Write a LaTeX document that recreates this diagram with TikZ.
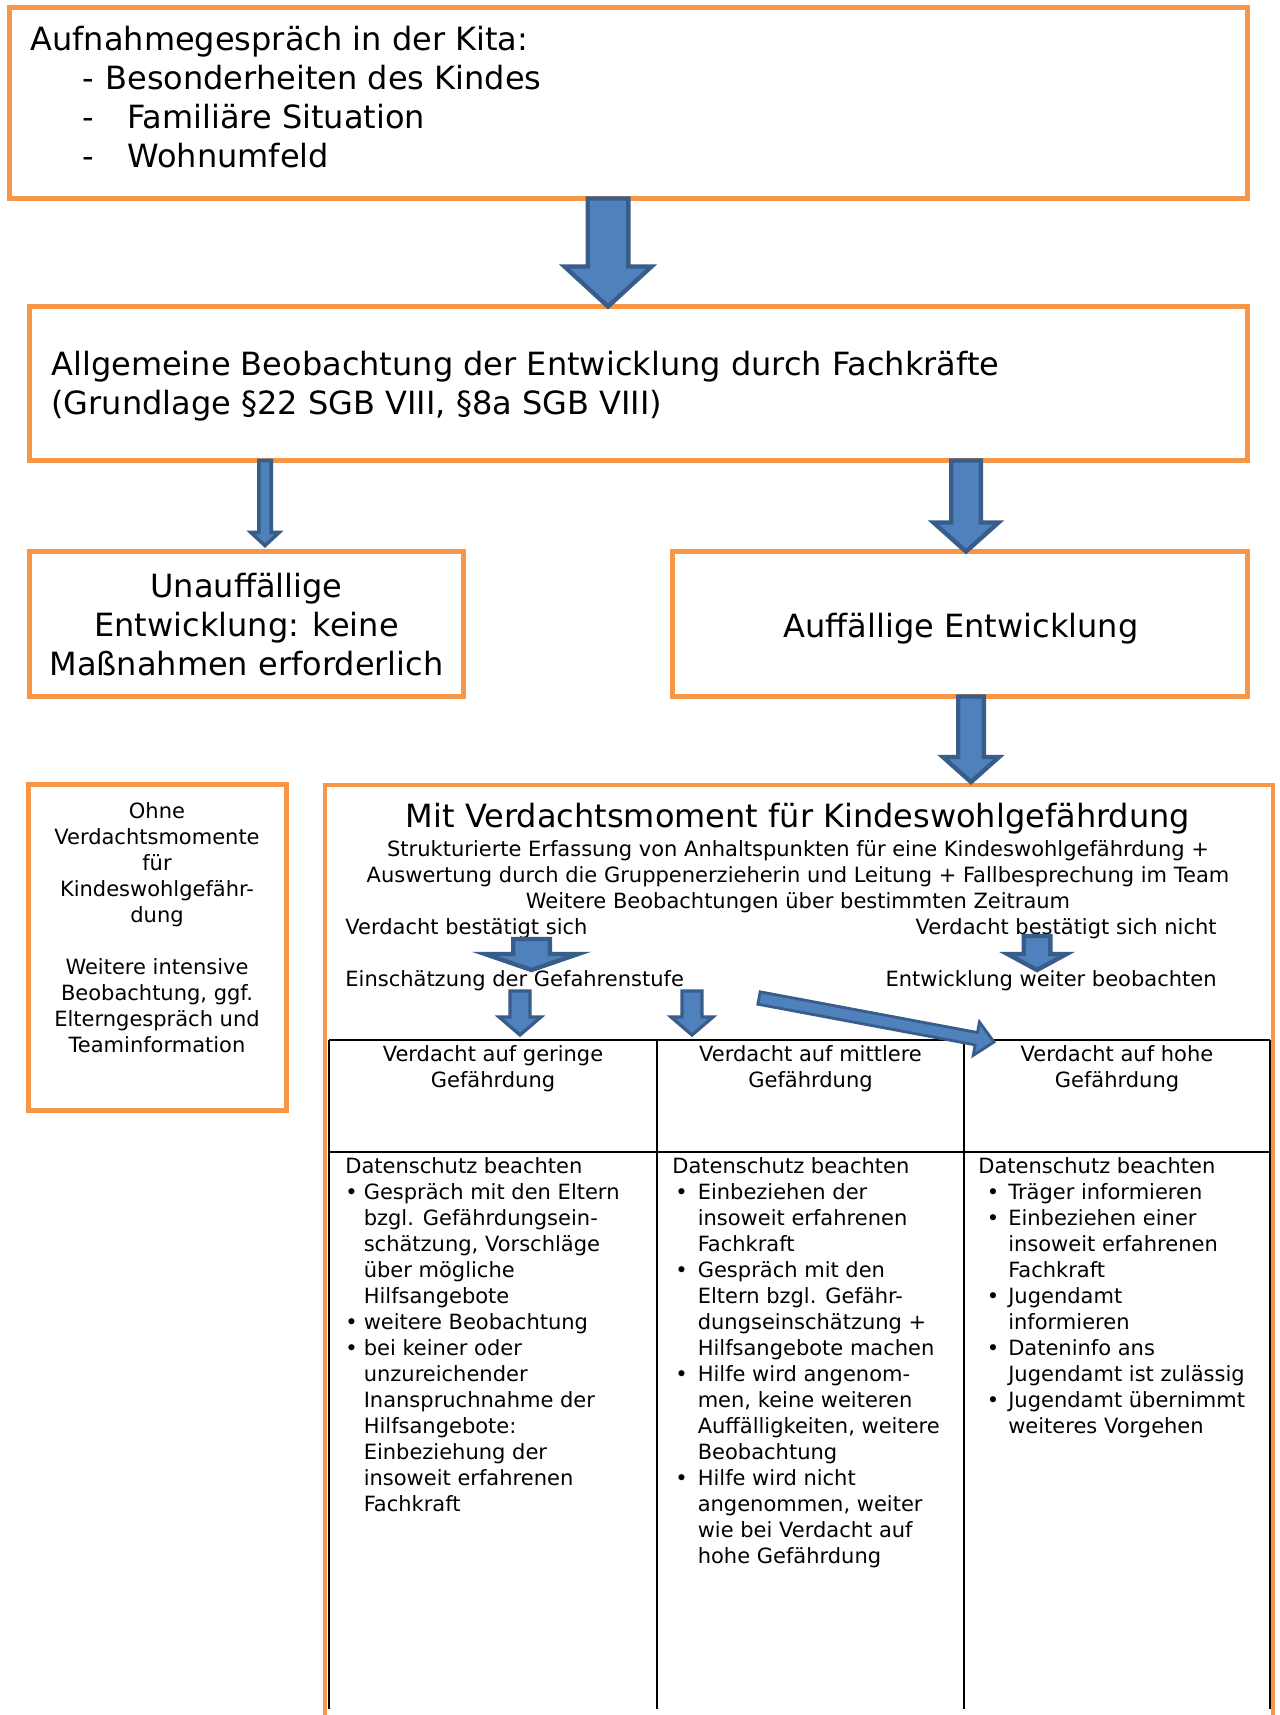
\documentclass[tikz,border=0pt]{standalone}
\usepackage{fontspec}
\setmainfont{DejaVu Sans}
\usetikzlibrary{calc}

\definecolor{kitaorange}{RGB}{247,150,70}
\definecolor{pfeilblau}{RGB}{79,129,189}
\definecolor{pfeilrand}{RGB}{56,93,138}

% block arrow: [style]{start}{tip}{half shaft}{half head}{head length}
\newcommand\blockpfeil[6][]{%
  \path (#2) coordinate (bp-s) (#3) coordinate (bp-e);
  \path ($(bp-e)!#6!(bp-s)$) coordinate (bp-h);
  \filldraw[pfeil,#1] ($(bp-s)!#4!90:(bp-e)$) -- ($(bp-h)!#4!90:(bp-e)$)
    -- ($(bp-h)!#5!90:(bp-e)$) -- (bp-e) -- ($(bp-h)!#5!-90:(bp-e)$)
    -- ($(bp-h)!#4!-90:(bp-e)$) -- ($(bp-s)!#4!-90:(bp-e)$) -- cycle;
}

\begin{document}
\begin{tikzpicture}[x=0.5pt,y=-0.5pt,
  kbox/.style={draw=kitaorange,line width=2.4pt,inner sep=0pt,outer sep=0pt,anchor=north west},
  gross/.style={font=\fontsize{16}{19.5}\selectfont,inner sep=0pt},
  klein/.style={font=\fontsize{10.5}{13}\selectfont,inner sep=0pt},
  pfeil/.style={fill=pfeilblau,draw=pfeilrand,line width=2.2pt,line join=miter},
  tabline/.style={line width=1pt}]
\useasboundingbox (0,0) rectangle (1280,1715);
\fill[white] (0,0) rectangle (1280,1715);
\clip (0,0) rectangle (1280,1715);

% Kaesten
\node[kbox,minimum width=619pt,minimum height=95.5pt] (aufnahme) at (9.5,7.5) {};
\node[kbox,minimum width=609pt,minimum height=77pt] (allgemein) at (29.5,306.5) {};
\node[kbox,minimum width=217pt,minimum height=72.5pt] (unauff) at (29.5,551.5) {};
\node[kbox,minimum width=287.5pt,minimum height=72.5pt] (auff) at (672.5,551.5) {};
\node[kbox,minimum width=129pt,minimum height=163pt] (ohne) at (28.5,784.5) {};
\node[kbox,minimum width=474pt,minimum height=490pt] (verdacht) at (325,785) {};

\node[gross,anchor=base west] (aufnahmetext) at (30,50) {\parbox[t]{560pt}{Aufnahmegespräch in der Kita:\\
  \hspace*{26pt}\makebox[11.5pt][l]{-}Besonderheiten des Kindes\\
  \hspace*{26pt}\makebox[22.5pt][l]{-}Familiäre Situation\\
  \hspace*{26pt}\makebox[22.5pt][l]{-}Wohnumfeld}};
\node[gross,anchor=base west] (allgemeintext) at (51,375) {\parbox[t]{580pt}{Allgemeine Beobachtung der Entwicklung durch Fachkräfte\\(Grundlage §22 SGB VIII, §8a SGB VIII)}};
\node[gross,anchor=base] (unaufftext) at (246.5,597) {\parbox[t]{215pt}{\centering Unauffällige\\Entwicklung: keine\\Maßnahmen erforderlich}};
\node[gross,anchor=base] (aufftext) at (961,637) {Auffällige Entwicklung};
\node[klein,anchor=base] (ohnetext) at (157,818) {\parbox[t]{125pt}{\centering Ohne\\Verdachtsmomente\\für\\Kindeswohlgefähr-\\dung\\[13pt]Weitere intensive\\Beobachtung, ggf.\\Elterngespräch und\\Teaminformation}};

% Verdachtsmoment
\node[gross,anchor=base] (titel) at (798,827) {Mit Verdachtsmoment für Kindeswohlgefährdung};
\node[klein,anchor=base] (erfassung) at (798,856) {\parbox[t]{470pt}{\centering Strukturierte Erfassung von Anhaltspunkten für eine Kindeswohlgefährdung +\\Auswertung durch die Gruppenerzieherin und Leitung + Fallbesprechung im Team\\Weitere Beobachtungen über bestimmten Zeitraum}};
\node[klein,anchor=base west] (bestaetigt) at (345,934) {Verdacht bestätigt sich};
\node[klein,anchor=base east] (nichtbestaetigt) at (1217,934) {Verdacht bestätigt sich nicht};
\node[klein,anchor=base west] (gefahrenstufe) at (345,986) {Einschätzung der Gefahrenstufe};
\node[klein,anchor=base east] (weiterbeob) at (1217,986) {Entwicklung weiter beobachten};

% Tabelle
\coordinate (tab-nw) at (329,1040);
\draw[tabline] (tab-nw) -- (1270,1040) (329,1152) -- (1270,1152);
\foreach \x in {329,657,964,1270} \draw[tabline] (\x,1040) -- (\x,1709);

\node[klein,anchor=base] (gering) at (493,1061) {\parbox[t]{150pt}{\centering Verdacht auf geringe\\Gefährdung}};
\node[klein,anchor=base] (mittel) at (810.5,1061) {\parbox[t]{150pt}{\centering Verdacht auf mittlere\\Gefährdung}};
\node[klein,anchor=base] (hoch) at (1117,1061) {\parbox[t]{150pt}{\centering Verdacht auf hohe\\Gefährdung}};

\node[klein,anchor=base west] (geringtext) at (345,1173) {\begin{tabular}[t]{@{}l@{\hspace{3pt}}l@{}}
  \multicolumn{2}{@{}l@{}}{Datenschutz beachten}\\
  \textbullet & Gespräch mit den Eltern\\
  & bzgl. Gefährdungsein-\\
  & schätzung, Vorschläge\\
  & über mögliche\\
  & Hilfsangebote\\
  \textbullet & weitere Beobachtung\\
  \textbullet & bei keiner oder\\
  & unzureichender\\
  & Inanspruchnahme der\\
  & Hilfsangebote:\\
  & Einbeziehung der\\
  & insoweit erfahrenen\\
  & Fachkraft
\end{tabular}};
\node[klein,anchor=base west] (mitteltext) at (672,1173) {\begin{tabular}[t]{@{\hspace{1.5pt}}l@{\hspace{5pt}}l@{}}
  \multicolumn{2}{@{}l@{}}{Datenschutz beachten}\\
  \textbullet & Einbeziehen der\\
  & insoweit erfahrenen\\
  & Fachkraft\\
  \textbullet & Gespräch mit den\\
  & Eltern bzgl. Gefähr-\\
  & dungseinschätzung +\\
  & Hilfsangebote machen\\
  \textbullet & Hilfe wird angenom-\\
  & men, keine weiteren\\
  & Auffälligkeiten, weitere\\
  & Beobachtung\\
  \textbullet & Hilfe wird nicht\\
  & angenommen, weiter\\
  & wie bei Verdacht auf\\
  & hohe Gefährdung
\end{tabular}};
\node[klein,anchor=base west] (hochtext) at (978,1173) {\begin{tabular}[t]{@{\hspace{4.25pt}}l@{\hspace{4.5pt}}l@{}}
  \multicolumn{2}{@{}l@{}}{Datenschutz beachten}\\
  \textbullet & Träger informieren\\
  \textbullet & Einbeziehen einer\\
  & insoweit erfahrenen\\
  & Fachkraft\\
  \textbullet & Jugendamt\\
  & informieren\\
  \textbullet & Dateninfo ans\\
  & Jugendamt ist zulässig\\
  \textbullet & Jugendamt übernimmt\\
  & weiteres Vorgehen
\end{tabular}};

% Pfeile
\coordinate (diag-s) at (759,998);
\coordinate (diag-e) at (994,1042);
\blockpfeil{608,0 |- aufnahme.south}{608,0 |- allgemein.north}{10.15pt}{21.75pt}{20pt}
\blockpfeil[line width=1.8pt]{265,0 |- allgemein.south}{$(265,0 |- unauff.north)+(0,-6)$}{3.1pt}{7pt}{6.5pt}
\blockpfeil{966,0 |- allgemein.south}{966,0 |- auff.north}{7.4pt}{16.25pt}{14.5pt}
\blockpfeil{971,0 |- auff.south}{$(971,0 |- verdacht.north)+(0,-3)$}{6.4pt}{14pt}{12.5pt}
\blockpfeil{$(531.5,0 |- bestaetigt.base)+(0,5)$}{$(531.5,0 |- gefahrenstufe.base)+(0,-16)$}{9.15pt}{23.25pt}{8pt}
\blockpfeil{$(1037,0 |- nichtbestaetigt.base)+(0,2)$}{$(1037,0 |- weiterbeob.base)+(0,-16)$}{6.65pt}{14.75pt}{8pt}
\blockpfeil[line width=1.6pt]{$(520,0 |- gefahrenstufe.base)+(0,5)$}{$(520,0 |- tab-nw)+(0,-5)$}{5pt}{10.5pt}{9pt}
\blockpfeil[line width=1.6pt]{$(692,0 |- gefahrenstufe.base)+(0,5)$}{$(692,0 |- tab-nw)+(0,-5)$}{5pt}{10.5pt}{9pt}
\blockpfeil[line width=1.4pt]{diag-s}{diag-e}{3.15pt}{8.5pt}{9pt}
\end{tikzpicture}
\end{document}
